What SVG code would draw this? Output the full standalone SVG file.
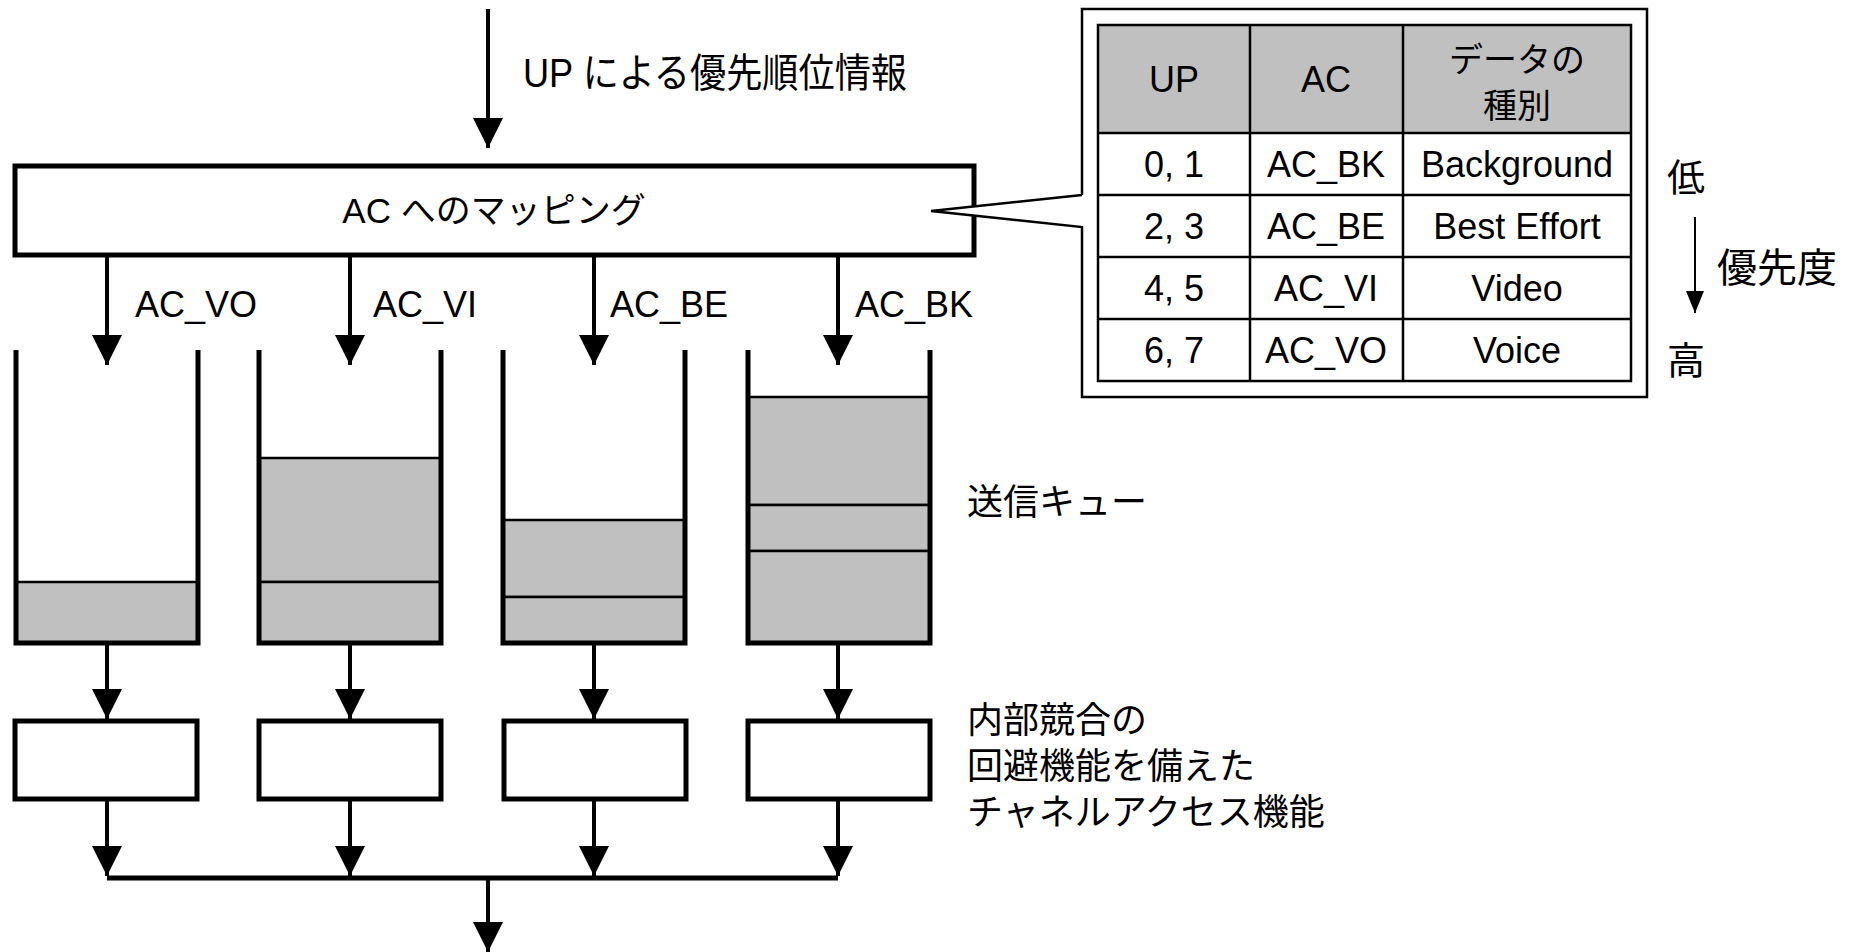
<svg xmlns="http://www.w3.org/2000/svg" width="1861" height="952" viewBox="0 0 1861 952">
<style>
text{font-family:"Liberation Sans","Noto Sans CJK JP",sans-serif;fill:#000}
.t36{font-size:36px}
.mid{text-anchor:middle}
.box{fill:#fff;stroke:#000;stroke-width:5}
.wall{fill:none;stroke:#000;stroke-width:5}
.q{fill:#c0c0c0;stroke:#000;stroke-width:2.5}
.ln{fill:none;stroke:#000;stroke-width:4}
.thin{fill:none;stroke:#000;stroke-width:2.5}
</style>
<defs>
<marker id="ah" markerUnits="userSpaceOnUse" markerWidth="30" markerHeight="32" refX="30" refY="15" orient="auto" viewBox="0 0 30 30">
<path d="M0,0 L30,15 L0,30 Z" fill="#000"/>
</marker>
<marker id="ahs" markerUnits="userSpaceOnUse" markerWidth="22" markerHeight="20" refX="22" refY="9" orient="auto" viewBox="0 0 22 18">
<path d="M0,0 L22,9 L0,18 Z" fill="#000"/>
</marker>
</defs>

<g id="connectors">
<line class="ln" x1="488" y1="9" x2="488" y2="148" marker-end="url(#ah)"/>
<line class="ln" x1="107" y1="257" x2="107" y2="365" marker-end="url(#ah)"/>
<line class="ln" x1="350" y1="257" x2="350" y2="365" marker-end="url(#ah)"/>
<line class="ln" x1="594" y1="257" x2="594" y2="365" marker-end="url(#ah)"/>
<line class="ln" x1="838" y1="257" x2="838" y2="365" marker-end="url(#ah)"/>
<line class="ln" x1="107" y1="645" x2="107" y2="719" marker-end="url(#ah)"/>
<line class="ln" x1="350" y1="645" x2="350" y2="719" marker-end="url(#ah)"/>
<line class="ln" x1="594" y1="645" x2="594" y2="719" marker-end="url(#ah)"/>
<line class="ln" x1="838" y1="645" x2="838" y2="719" marker-end="url(#ah)"/>
<line class="ln" x1="107" y1="801" x2="107" y2="876" marker-end="url(#ah)"/>
<line class="ln" x1="350" y1="801" x2="350" y2="876" marker-end="url(#ah)"/>
<line class="ln" x1="594" y1="801" x2="594" y2="876" marker-end="url(#ah)"/>
<line class="ln" x1="838" y1="801" x2="838" y2="876" marker-end="url(#ah)"/>
<line x1="107" y1="878" x2="838" y2="878" stroke="#000" stroke-width="5"/>
<line class="ln" x1="488" y1="878" x2="488" y2="952" marker-end="url(#ah)"/>
<line x1="1695" y1="217" x2="1695" y2="313" stroke="#000" stroke-width="2" marker-end="url(#ahs)"/>
</g>

<text id="up-label" x="523" y="87" style="font-size:40px" textLength="384" lengthAdjust="spacingAndGlyphs">UP による優先順位情報</text>

<g id="mapping">
<rect class="box" x="15" y="166" width="959" height="89"/>
<text class="mid" x="494" y="223" style="font-size:35px">AC へのマッピング</text>
</g>

<g id="ac-labels" class="t36">
<text class="t36" x="135" y="317">AC_VO</text>
<text class="t36" x="373" y="317">AC_VI</text>
<text class="t36" x="610" y="317">AC_BE</text>
<text class="t36" x="855" y="317">AC_BK</text>
</g>

<g id="queue-vo">
<rect class="q" x="16" y="582" width="182" height="61"/>
<path class="wall" d="M16,350 V643 H198 V350"/>
</g>
<g id="queue-vi">
<rect class="q" x="259" y="458" width="182" height="124"/>
<rect class="q" x="259" y="582" width="182" height="61"/>
<path class="wall" d="M259,350 V643 H441 V350"/>
</g>
<g id="queue-be">
<rect class="q" x="503" y="520" width="182" height="77"/>
<rect class="q" x="503" y="597" width="182" height="46"/>
<path class="wall" d="M503,350 V643 H685 V350"/>
</g>
<g id="queue-bk">
<rect class="q" x="748" y="397" width="182" height="108"/>
<rect class="q" x="748" y="505" width="182" height="46"/>
<rect class="q" x="748" y="551" width="182" height="92"/>
<path class="wall" d="M748,350 V643 H930 V350"/>
</g>
<text id="queue-label" class="t36" x="967" y="515">送信キュー</text>

<g id="ca-vo"><rect class="box" x="15" y="721" width="182" height="78"/></g>
<g id="ca-vi"><rect class="box" x="259" y="721" width="182" height="78"/></g>
<g id="ca-be"><rect class="box" x="504" y="721" width="182" height="78"/></g>
<g id="ca-bk"><rect class="box" x="748" y="721" width="182" height="78"/></g>
<g id="ca-label">
<text class="t36" x="967" y="733">内部競合の</text>
<text class="t36" x="967" y="779">回避機能を備えた</text>
<text class="t36" x="967" y="825">チャネルアクセス機能</text>
</g>

<g id="callout">
<path d="M1082,195 V9 H1647 V397 H1082 V227 L931,211 Z" fill="#fff" stroke="none"/>
<path class="thin" d="M1082,195 V9 H1647 V397 H1082 V227 L931,211 L1082,195"/>
<rect x="1098" y="25" width="533" height="108" fill="#c0c0c0"/>
<g class="thin">
<rect x="1098" y="25" width="533" height="356"/>
<line x1="1098" y1="133" x2="1631" y2="133"/>
<line x1="1098" y1="195" x2="1631" y2="195"/>
<line x1="1098" y1="257" x2="1631" y2="257"/>
<line x1="1098" y1="319" x2="1631" y2="319"/>
<line x1="1250" y1="25" x2="1250" y2="381"/>
<line x1="1403" y1="25" x2="1403" y2="381"/>
</g>
<g class="t36">
<text class="t36 mid" x="1174" y="92">UP</text>
<text class="t36 mid" x="1326" y="92">AC</text>
<text class="mid" x="1517" y="72" style="font-size:34px">データの</text>
<text class="mid" x="1517" y="118" style="font-size:34px">種別</text>
<text class="t36 mid" x="1174" y="177">0, 1</text>
<text class="t36 mid" x="1326" y="177">AC_BK</text>
<text class="t36 mid" x="1517" y="177">Background</text>
<text class="t36 mid" x="1174" y="239">2, 3</text>
<text class="t36 mid" x="1326" y="239">AC_BE</text>
<text class="t36 mid" x="1517" y="239">Best Effort</text>
<text class="t36 mid" x="1174" y="301">4, 5</text>
<text class="t36 mid" x="1326" y="301">AC_VI</text>
<text class="t36 mid" x="1517" y="301">Video</text>
<text class="t36 mid" x="1174" y="363">6, 7</text>
<text class="t36 mid" x="1326" y="363">AC_VO</text>
<text class="t36 mid" x="1517" y="363">Voice</text>
</g>
</g>

<g id="priority">
<text x="1667" y="191" style="font-size:38px">低</text>
<text x="1717" y="282" style="font-size:40px">優先度</text>
<text x="1667" y="374" style="font-size:38px">高</text>
</g>
</svg>
